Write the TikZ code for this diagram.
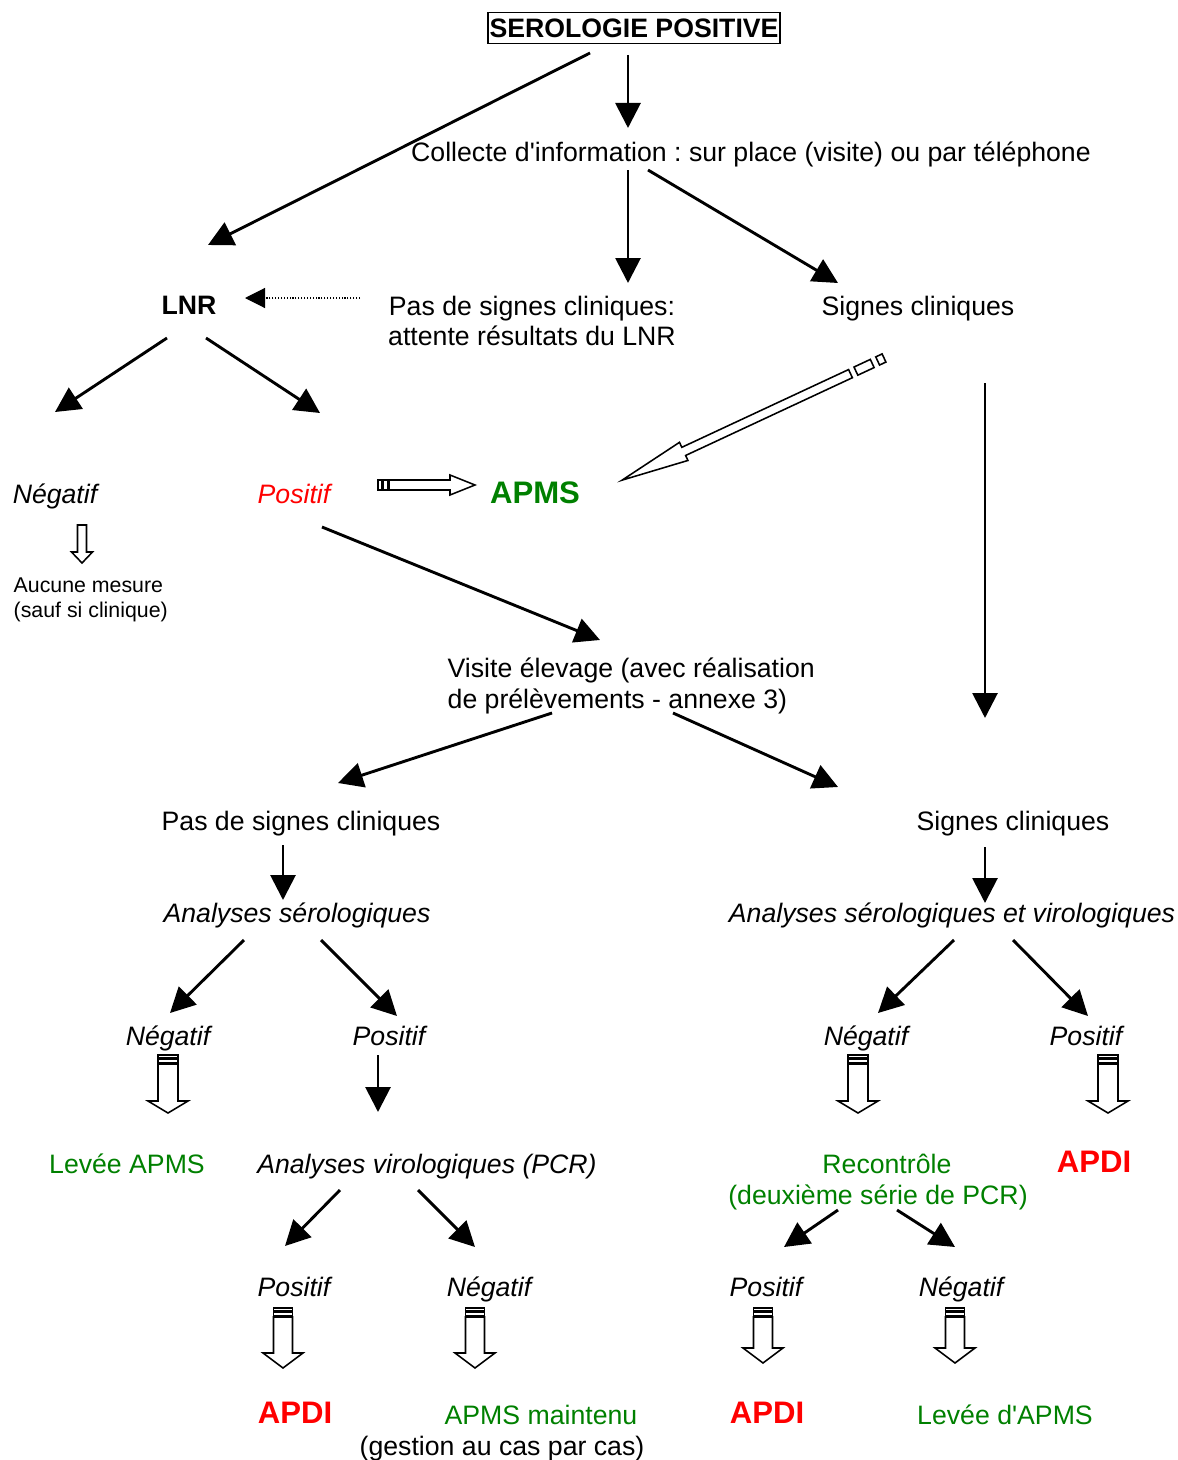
\documentclass[tikz,border=0pt]{standalone}
\usepackage{fontspec}
\setmainfont{Liberation Sans}[Ligatures=TeXOff]
\usetikzlibrary{arrows.meta}

\definecolor{apmsgreen}{RGB}{0,128,0}
\definecolor{apdired}{RGB}{255,0,0}

% block arrow, tail #1, angle #2, length #3, half shaft #4, half head #5,
% head length #6, stripes #7 and #8, gap #9
\newcommand{\stripedarrow}[9]{%
  \begin{scope}[shift={#1}, rotate=#2]
    \draw[block] (0,-#4) rectangle (#7,#4);
    \draw[block] ({#7+#9},-#4) rectangle ({#7+#8+#9},#4);
    \draw[block] ({#7+#8+2*#9},-#4) -- ({#3-#6},-#4) -- ({#3-#6},-#5) -- (#3,0)
      -- ({#3-#6},#5) -- ({#3-#6},#4) -- ({#7+#8+2*#9},#4) -- cycle;
  \end{scope}}

\begin{document}
\frenchspacing
\begin{tikzpicture}%
        [x={(0.45pt,0pt)},
        y={(0pt,-0.45pt)},
        link/.style={line width=1.3pt, -{Triangle[length=11.25pt,width=11.25pt]}},
        hint/.style={line width=0.5pt, dash pattern=on 0.5pt off 0.8pt, -{Triangle[length=9pt,width=9pt]}},
        block/.style={line width=0.7pt, line join=miter, fill=white},
        title/.style={draw, line width=0.7pt, font=\fontsize{12}{13.6}\selectfont\bfseries, inner xsep=0.6pt, inner ysep=2.8pt},
        base/.style={font=\fontsize{12}{13.6}\selectfont, inner sep=1pt},
        txt/.style={base, text height=8.7pt, text depth=0pt},
        res/.style={txt, font=\fontsize{12}{13.6}\selectfont\itshape},
        small/.style={font=\fontsize{9.6}{11.2}\selectfont, inner sep=1pt},
        ok/.style={txt, text=apmsgreen},
        bad/.style={font=\fontsize{14}{16}\selectfont\bfseries, text=apdired, inner sep=1pt}]

    \useasboundingbox (0,0) rectangle (1177,1460);

    %%
    %% Nodes
    %%
    \node[title] (sero) at (634,28) {SEROLOGIE POSITIVE};
    \node[txt] (collecte) at (751,152) {Collecte d'information : sur place (visite) ou par téléphone};
    \node[txt, font=\fontsize{12}{13.6}\selectfont\bfseries] (lnr) at (189,305) {LNR};
    \node[base, align=center] (attente) at (532,321) {Pas de signes cliniques:\\attente résultats du LNR};
    \node[txt] (signes1) at (918,306) {Signes cliniques};
    \node[res] (neg1) at (55,494) {Négatif};
    \node[res, text=apdired] (pos1) at (294,494) {Positif};
    \node[base, font=\fontsize{14}{16}\selectfont\bfseries, text=apmsgreen] (apms) at (535,493) {APMS};
    \node[small, align=left, anchor=west] (aucune) at (11,600) {Aucune mesure\\(sauf si clinique)};
    \node[base, align=left, anchor=west] (visite) at (445,686) {Visite élevage (avec réalisation\\de prélèvements - annexe 3)};
    \node[txt] (pds) at (301,821) {Pas de signes cliniques};
    \node[txt] (signes2) at (1013,821) {Signes cliniques};
    \node[res] (anaser) at (297,913) {Analyses sérologiques};
    \node[res] (anasv) at (952,913) {Analyses sérologiques et virologiques};
    \node[res] (neg2) at (168,1036) {Négatif};
    \node[res] (pos2) at (389,1036) {Positif};
    \node[res] (neg3) at (866,1036) {Négatif};
    \node[res] (pos3) at (1086,1036) {Positif};
    \node[ok] (levee) at (127,1164) {Levée APMS};
    \node[res] (anavir) at (427,1164) {Analyses virologiques (PCR)};
    \node[base, text=apmsgreen, align=center] (recontrole) at (878,1182) {\hspace*{8pt}Recontrôle\\(deuxième série de PCR)};
    \node[bad] (apdi1) at (1094,1162) {APDI};
    \node[res] (pos4) at (294,1287) {Positif};
    \node[res] (neg4) at (489,1287) {Négatif};
    \node[res] (pos5) at (766,1287) {Positif};
    \node[res] (neg5) at (961,1287) {Négatif};
    \node[bad] (apdi2) at (295,1413) {APDI};
    \node[ok] (maintenu) at (541,1415) {APMS maintenu};
    \node[txt] (gestion) at (502,1446) {(gestion au cas par cas)};
    \node[bad] (apdi3) at (767,1413) {APDI};
    \node[ok] (leveed) at (1005,1415) {Levée d'APMS};

    %%
    %% Arrows
    %%
    \draw[link] ([shift={(-6,27)}]sero.center) -- ([shift={(-123,-24)}]collecte.center);
    \draw[link] ([shift={(-44,25)}]sero.center) -- ([shift={(19,-60)}]lnr.center);
    \draw[link] ([shift={(-123,18)}]collecte.center) -- ([shift={(96,-38)}]attente.center);
    \draw[link] ([shift={(-103,18)}]collecte.center) -- ([shift={(-80,-23)}]signes1.center);
    \draw[hint] ([shift={(-172,-23)}]attente.center) -- ([shift={(56,-7)}]lnr.center);
    \draw[link] ([shift={(-22,33)}]lnr.center) -- ([shift={(0,-82)}]neg1.center);
    \draw[link] ([shift={(17,33)}]lnr.center) -- ([shift={(26,-81)}]pos1.center);
    \draw[link] ([shift={(67,77)}]signes1.center) -- ([shift={(-28,-103)}]signes2.center);
    \draw[link] ([shift={(28,33)}]pos1.center) -- ([shift={(155,-46)}]visite.west);
    \draw[link] ([shift={(107,27)}]visite.west) -- ([shift={(37,-38)}]pds.center);
    \draw[link] ([shift={(228,27)}]visite.west) -- ([shift={(-175,-34)}]signes2.center);
    \draw[link] ([shift={(-18,24)}]pds.center) -- ([shift={(-14,-13)}]anaser.center);
    \draw[link] ([shift={(-28,26)}]signes2.center) -- ([shift={(33,-10)}]anasv.center);
    \draw[link] ([shift={(-53,27)}]anaser.center) -- ([shift={(2,-23)}]neg2.center);
    \draw[link] ([shift={(24,27)}]anaser.center) -- ([shift={(8,-20)}]pos2.center);
    \draw[link] ([shift={(2,27)}]anasv.center) -- ([shift={(12,-23)}]neg3.center);
    \draw[link] ([shift={(61,27)}]anasv.center) -- ([shift={(2,-20)}]pos3.center);
    \draw[link] ([shift={(-11,19)}]pos2.center) -- ([shift={(-49,-52)}]anavir.center);
    \draw[link] ([shift={(-87,26)}]anavir.center) -- ([shift={(-9,-41)}]pos4.center);
    \draw[link] ([shift={(-9,26)}]anavir.center) -- ([shift={(-14,-40)}]neg4.center);
    \draw[link] ([shift={(-40,28)}]recontrole.center) -- ([shift={(18,-40)}]pos5.center);
    \draw[link] ([shift={(19,28)}]recontrole.center) -- ([shift={(-6,-40)}]neg5.center);

    %%
    %% Block arrows
    %%
    \stripedarrow{([shift={(-34,52)}]signes1.center)}{205}{289}{4.5}{10}{68}{7}{18}{6}
    \stripedarrow{([shift={(84,-9)}]pos1.center)}{0}{97}{5}{10}{25}{4}{4}{1.5}
    \begin{scope}[shift={([shift={(27,31)}]neg1.center)}, rotate=-90]
      \draw[block] (0,-4.5) -- (27,-4.5) -- (27,-10.5) -- (38,0) -- (27,10.5) -- (27,4.5) -- (0,4.5) -- cycle;
    \end{scope}
    \stripedarrow{([shift={(0,19)}]neg2.center)}{-90}{58}{10}{20}{12}{3}{3}{1.5}
    \stripedarrow{([shift={(-8,19)}]neg3.center)}{-90}{58}{10}{20}{12}{3}{3}{1.5}
    \stripedarrow{([shift={(22,19)}]pos3.center)}{-90}{58}{10}{20}{12}{3}{3}{1.5}
    \stripedarrow{([shift={(-11,21)}]pos4.center)}{-90}{60}{9.5}{20}{15}{3}{3}{1.5}
    \stripedarrow{([shift={(-14,21)}]neg4.center)}{-90}{60}{9.5}{20}{15}{3}{3}{1.5}
    \stripedarrow{([shift={(-3,21)}]pos5.center)}{-90}{55}{9.5}{20}{15}{3}{3}{1.5}
    \stripedarrow{([shift={(-6,21)}]neg5.center)}{-90}{55}{9.5}{20}{15}{3}{3}{1.5}
    \end{tikzpicture}
\end{document}
